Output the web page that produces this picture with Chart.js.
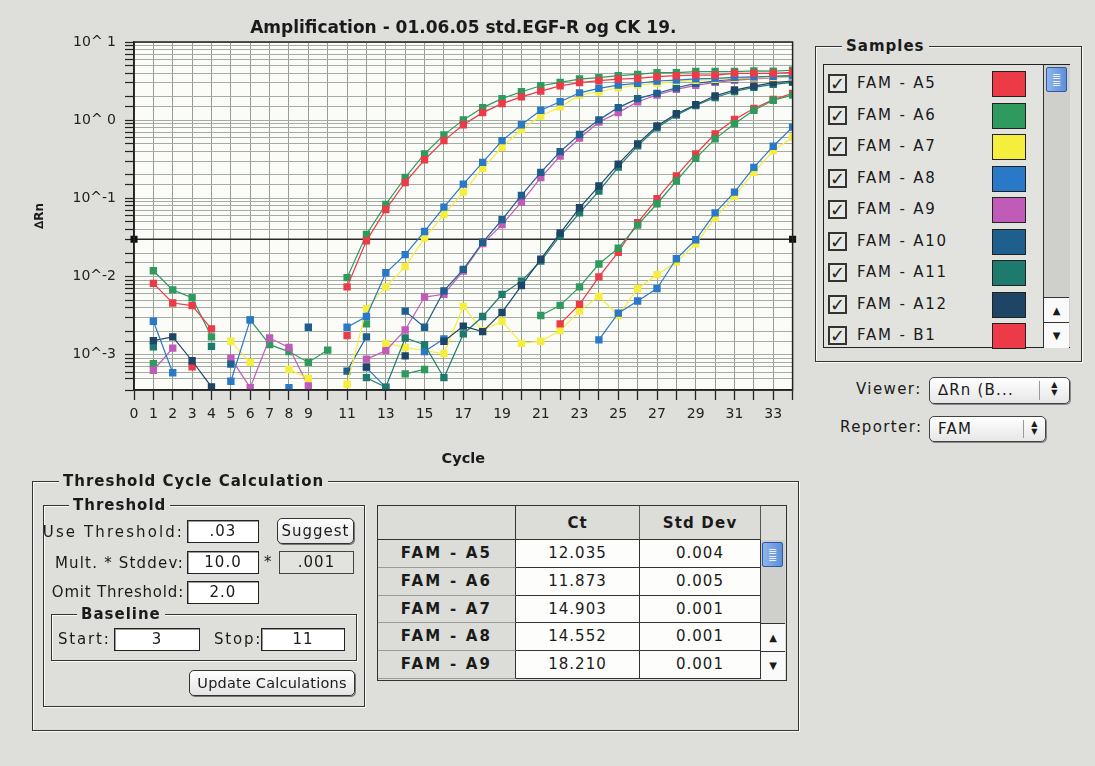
<!DOCTYPE html>
<html>
<head>
<meta charset="utf-8">
<script src="https://cdn.jsdelivr.net/npm/chart.js@4.4.0/dist/chart.umd.min.js"></script>
<style>
  body { margin: 0; width: 1095px; height: 766px; background: #dedfdb; font-family: "DejaVu Sans", sans-serif; color: #1a1a1a; position: relative; overflow: hidden; }
  #wrap { position: absolute; left: 0; top: 0; width: 810px; height: 475px; }
  .abs { position: absolute; }
  .grp { position: absolute; border: 1px solid #333; box-shadow: 1px 1px 0 #fafafa, inset 1px 1px 0 #fafafa; }
  .gt { position: absolute; top: -10px; background: #dedfdb; padding: 0 4px; font-weight: bold; font-size: 15px; line-height: 18px; letter-spacing: 1px; }
  .lbl { position: absolute; font-size: 15px; letter-spacing: 1.4px; white-space: nowrap; line-height: 18px; }
  .rl { position: absolute; right: 911px; font-size: 15px; letter-spacing: 1.9px; white-space: nowrap; line-height: 18px; text-align: right; }
  .box { position: absolute; background: #fff; border: 1px solid #222; box-shadow: inset 1px 1px 0 #999; text-align: center; font-size: 15px; letter-spacing: 1px; box-sizing: border-box; }
  .btn { position: absolute; background: linear-gradient(#ffffff, #e4e4e4); border: 1px solid #333; border-radius: 5px; box-shadow: 1px 1px 0 #777; text-align: center; font-size: 15px; letter-spacing: 1px; box-sizing: border-box; }
  .popup { position: absolute; background: linear-gradient(#ffffff, #e6e6e6); border: 1px solid #444; border-radius: 5px; box-shadow: 1px 1px 0 #888; box-sizing: border-box; font-size: 15px; letter-spacing: 1.2px; }
  .arrows { position: absolute; top: 3px; width: 10px; font-size: 8px; line-height: 8px; text-align: center; }
  .chk { position: absolute; width: 19px; height: 19px; border: 2px solid #333; box-sizing: border-box; background: #e8e8e4; font-size: 18px; line-height: 15px; font-weight: bold; text-align: center; color: #222; }
  .sw { position: absolute; width: 34px; height: 26px; border: 1px solid #222; box-sizing: border-box; }
  .cell { position: absolute; box-sizing: border-box; text-align: center; font-size: 15px; letter-spacing: 1px; }
</style>
</head>
<body>
<div id="wrap"><canvas id="amp" width="810" height="475"></canvas></div>

<!-- Samples panel -->
<div class="grp" style="left:815px;top:46px;width:265px;height:314px;">
  <span class="gt" style="left:26px;">Samples</span>
</div>
<div id="list" class="abs" style="left:823px;top:64px;width:247px;height:284px;border:1px solid #222;box-sizing:border-box;background:#e2e3df;"></div>

<div class="lbl" style="left:856px;top:380px;">Viewer:</div>
<div class="popup" style="left:929px;top:377px;width:141px;height:27px;">
  <span class="abs" style="left:8px;top:3px;">∆Rn (B...</span>
  <span class="abs" style="left:109px;top:3px;height:19px;border-left:1px solid #999;"></span>
  <div class="arrows" style="left:120px;">▲<br>▼</div>
</div>
<div class="lbl" style="left:840px;top:418px;">Reporter:</div>
<div class="popup" style="left:929px;top:416px;width:117px;height:26px;">
  <span class="abs" style="left:8px;top:3px;">FAM</span>
  <span class="abs" style="left:93px;top:3px;height:18px;border-left:1px solid #999;"></span>
  <div class="arrows" style="left:100px;">▲<br>▼</div>
</div>

<!-- Threshold Cycle Calculation panel -->
<div class="grp" style="left:32px;top:481px;width:765px;height:248px;">
  <span class="gt" style="left:26px;">Threshold Cycle Calculation</span>
</div>
<div class="grp" style="left:43px;top:505px;width:320px;height:200px;">
  <span class="gt" style="left:25px;">Threshold</span>
</div>
<div class="rl" style="top:523px;letter-spacing:2.1px;">Use Threshold:</div>
<div class="box" id="thrBox" style="left:187px;top:520px;width:72px;height:23px;line-height:21px;"></div>
<div class="btn" style="left:277px;top:518px;width:77px;height:26px;line-height:24px;">Suggest</div>
<div class="rl" style="top:554px;letter-spacing:1.2px;">Mult. * Stddev:</div>
<div class="box" style="left:187px;top:551px;width:72px;height:23px;line-height:21px;">10.0</div>
<div class="lbl" style="left:264px;top:553px;">*</div>
<div class="box" style="left:279px;top:551px;width:75px;height:23px;line-height:21px;background:#e2e3df;box-shadow:none;border-color:#444;">.001</div>
<div class="rl" style="top:583px;letter-spacing:0.8px;">Omit Threshold:</div>
<div class="box" style="left:187px;top:581px;width:72px;height:23px;line-height:21px;">2.0</div>
<div class="grp" style="left:51px;top:614px;width:304px;height:45px;">
  <span class="gt" style="left:25px;">Baseline</span>
</div>
<div class="lbl" style="left:58px;top:630px;letter-spacing:1.8px;">Start:</div>
<div class="box" style="left:114px;top:628px;width:86px;height:23px;line-height:21px;">3</div>
<div class="lbl" style="left:214px;top:630px;letter-spacing:1.8px;">Stop:</div>
<div class="box" style="left:261px;top:628px;width:84px;height:23px;line-height:21px;">11</div>
<div class="btn" style="left:189px;top:670px;width:166px;height:26px;line-height:24px;letter-spacing:0.2px;font-size:14.5px;">Update Calculations</div>

<div id="ctTable" class="abs" style="left:377px;top:505px;width:410px;height:176px;border:1.5px solid #333;box-sizing:border-box;background:#dcddd9;"></div>

<script>
// cycle numbers on the x axis
const cycles = [0, 1, 2, 3, 4, 5, 6, 7, 8, 9, 10, 11, 12, 13, 14, 15, 16, 17, 18, 19, 20, 21, 22, 23, 24, 25, 26, 27, 28, 29, 30, 31, 32, 33, 34];

const sampleNames = ['FAM - A5', 'FAM - A6', 'FAM - A7', 'FAM - A8', 'FAM - A9', 'FAM - A10',
  'FAM - A11', 'FAM - A12', 'FAM - B1', 'FAM - B2', 'FAM - B3', 'FAM - B4'];
const sampleColors = ['#ec3a46', '#2e9a5e', '#f6ee3c', '#2a78c8', '#c05cb8', '#1f5f8e',
  '#1f7a6e', '#1e4466', '#ec3a46', '#2e9a5e', '#2a78c8', '#f6ee3c'];
const drawOrder = [1, 2, 4, 3, 6, 5, 8, 7, 10, 9, 11, 12];

// delta Rn per cycle (null = no point shown)
const a5 = [null, 8.2e-3, 4.6e-3, 4.25e-3, 2.15e-3, null, null, null, null, null, null, 7.4e-3, 0.0287, 0.0721, 0.160, 0.312, 0.548, 0.875, 1.25, 1.63, 1.99, 2.35, 2.75, 3.02, 3.2, 3.36, 3.43, 3.6, 3.72, 3.78, 3.78, 3.98, 3.98, 3.98, 4.1];
const a6 = [null, 0.0119, 6.76e-3, 5.36e-3, 1.7e-3, null, null, null, null, null, null, 9.7e-3, 0.0346, 0.0837, 0.185, 0.37, 0.65, 1.01, 1.45, 1.89, 2.31, 2.76, 3.05, 3.36, 3.5, 3.72, 3.86, 4.06, 4.06, 4.19, 4.19, 4.19, 4.27, 4.23, 4.35];
const a7 = [null, null, null, null, null, 1.49e-3, 8.0e-4, null, 6.5e-4, 5.0e-4, null, 4.2e-4, 3.89e-3, 7.4e-3, 0.0134, 0.0311, 0.0622, 0.1205, 0.242, 0.451, 0.76, 1.13, 1.48, 2.09, 2.31, 2.6, 2.81, 2.96, 3.14, 3.24, 3.33, 3.43, 3.48, 3.53, 3.58];
const a8 = [null, 2.69e-3, 5.9e-4, null, null, 4.6e-4, 2.8e-3, null, 3.8e-4, null, null, 2.25e-3, 3.09e-3, 0.0112, 0.0191, 0.0378, 0.0773, 0.152, 0.289, 0.548, 0.875, 1.34, 1.72, 2.24, 2.55, 2.81, 2.96, 3.17, 3.26, 3.38, 3.43, 3.53, 3.58, 3.64, 3.69];
const a9 = [null, 6.35e-4, 1.22e-3, null, null, 9.06e-4, 3.8e-4, 1.64e-3, 1.24e-3, 4.0e-4, null, null, 8.8e-4, 1.13e-3, 2.08e-3, 5.48e-3, 5.94e-3, 0.0118, 0.0265, 0.0462, 0.0895, 0.185, 0.348, 0.589, 0.948, 1.25, 1.72, 2.1, 2.48, 2.79, 3.05, 3.24, 3.38, 3.48, 3.58];
const a10 = [null, null, null, null, null, 7.6e-4, null, null, null, 2.25e-3, null, 6.2e-4, 1.7e-3, null, 3.62e-3, 2.25e-3, 6.56e-3, 0.0124, 0.0275, 0.0536, 0.109, 0.215, 0.396, 0.656, 1.01, 1.45, 1.89, 2.2, 2.6, 2.96, 3.17, 3.36, 3.5, 3.6, 3.72];
const a11 = [null, 1.27e-3, null, null, 1.28e-3, null, null, null, null, null, null, null, 5.1e-4, 3.85e-4, 1.64e-3, 1.35e-3, 5.1e-4, 1.85e-3, 3.09e-3, 5.94e-3, 8.75e-3, 0.0158, 0.0333, 0.0654, 0.124, 0.251, 0.469, 0.8, 1.16, 1.54, 1.95, 2.33, 2.63, 2.87, 3.05];
const a12 = [null, 1.52e-3, 1.7e-3, 8.4e-4, 3.9e-4, null, null, null, null, null, null, null, 7.0e-4, null, 9.7e-4, null, 1.49e-3, 2.33e-3, 1.98e-3, 3.48e-3, 7.66e-3, 0.0167, 0.0361, 0.0759, 0.144, 0.275, 0.498, 0.842, 1.21, 1.58, 2.05, 2.43, 2.73, 3.02, 3.17];
const b1 = [null, null, null, 7.0e-4, null, null, null, null, null, null, null, 1.76e-3, null, null, null, null, null, null, null, null, null, null, 2.49e-3, 4.42e-3, 9.93e-3, 0.0205, 0.049, 0.099, 0.194, 0.37, 0.67, 1.02, 1.41, 1.84, 2.2];
const b2 = [null, 7.7e-4, null, null, null, null, 2.8e-3, 1.35e-3, 1.1e-3, 8.0e-4, 1.15e-3, null, 2.49e-3, null, 5.7e-4, 6.5e-4, null, null, null, null, null, 3.18e-3, 4.29e-3, 7.4e-3, 0.0145, 0.0231, 0.0455, 0.0855, 0.167, 0.325, 0.577, 0.902, 1.34, 1.8, 2.09];
const b3 = [null, null, null, null, null, null, null, null, null, null, null, null, 6.86e-4, 3.83e-4, null, 1.1e-3, 1.6e-3, null, null, null, null, null, null, null, 1.55e-3, 3.41e-3, 4.88e-3, 7.05e-3, 0.0169, 0.0296, 0.0654, 0.1205, 0.249, 0.465, 0.817];
const b4 = [null, null, null, null, null, null, null, null, null, null, null, null, null, 1.4e-3, 1.24e-3, 1.13e-3, 1.04e-3, 4.16e-3, 2.04e-3, 2.69e-3, 1.4e-3, 1.49e-3, 2.04e-3, 3.62e-3, 5.6e-3, 3.18e-3, 7.05e-3, 0.0106, 0.0154, 0.0262, 0.0564, 0.107, 0.215, 0.407, 0.607];
const seriesValues = [a5, a6, a7, a8, a9, a10, a11, a12, b1, b2, b3, b4];

const threshold = 0.03;
const yMin = 3.55e-4;
const yMax = 10;

// results table
const tableSamples = ['FAM - A5', 'FAM - A6', 'FAM - A7', 'FAM - A8', 'FAM - A9'];
const ctValues = ['12.035', '11.873', '14.903', '14.552', '18.210'];
const stdDevValues = ['0.004', '0.005', '0.001', '0.001', '0.001'];

const listedSamples = 9;

// ---- chart ----
const datasets = seriesValues.map((vals, i) => ({
  label: sampleNames[i],
  data: vals.map((v, k) => ({ x: cycles[k], y: v })),
  borderColor: sampleColors[i],
  backgroundColor: sampleColors[i],
  pointBackgroundColor: sampleColors[i],
  borderWidth: 1.2,
  pointStyle: 'rect',
  pointRadius: 5.2,
  pointBorderWidth: 0,
  spanGaps: false,
  order: drawOrder[i]
}));

datasets.push({
  label: 'Threshold',
  data: [{ x: cycles[0], y: threshold }, { x: cycles[cycles.length - 1], y: threshold }],
  borderColor: '#2a2a2a',
  borderWidth: 1.6,
  pointStyle: 'rect',
  pointRadius: 5,
  pointBackgroundColor: '#111',
  pointBorderWidth: 0,
  clip: 8,
  order: 30
});

const plotFrame = {
  id: 'plotFrame',
  beforeDraw(chart) {
    const { ctx, chartArea: a } = chart;
    ctx.save();
    ctx.fillStyle = '#fbfbf8';
    ctx.fillRect(a.left, a.top, a.right - a.left, a.bottom - a.top);
    ctx.restore();
  },
  afterDatasetsDraw(chart) {
    const { ctx, chartArea: a } = chart;
    ctx.save();
    ctx.strokeStyle = '#222';
    ctx.lineWidth = 1.5;
    ctx.strokeRect(a.left, a.top, a.right - a.left, a.bottom - a.top);
    ctx.restore();
  }
};

function powLabel(v) {
  const e = Math.log10(v);
  const r = Math.round(e);
  if (Math.abs(e - r) > 1e-6) return '';
  return '10^' + (r >= 0 ? ' ' + r : String(r));
}

new Chart(document.getElementById('amp'), {
  type: 'line',
  data: { datasets },
  plugins: [plotFrame],
  options: {
    responsive: false,
    animation: false,
    layout: { padding: { left: 0, right: 17.4, top: 0, bottom: 0 } },
    plugins: {
      legend: { display: false },
      tooltip: { enabled: false },
      title: {
        display: true,
        fullSize: false,
        text: 'Amplification - 01.06.05 std.EGF-R og CK 19.',
        color: '#1a1a1a',
        font: { family: 'DejaVu Sans', size: 17, weight: 'bold', lineHeight: 1.2 },
        padding: { top: 18, bottom: 3.6 }
      }
    },
    scales: {
      x: {
        type: 'linear',
        min: 0,
        max: 34,
        afterFit(scale) { scale.height = 85; },
        ticks: {
          stepSize: 1,
          autoSkip: false,
          maxRotation: 0,
          padding: 6,
          color: '#222',
          font: { family: 'DejaVu Sans', size: 14 },
          callback: (v) => (v <= 9 || v % 2 === 1) && v < 34 ? String(v) : ''
        },
        grid: { color: '#959e95', lineWidth: 1, tickLength: 10, tickColor: '#222', tickWidth: 1.3 },
        border: { color: '#222', width: 1.5 },
        title: {
          display: true,
          text: 'Cycle',
          color: '#1a1a1a',
          font: { family: 'DejaVu Sans', size: 14.5, weight: 'bold', lineHeight: 1.2 },
          padding: { top: 0, bottom: 7.3 }
        }
      },
      y: {
        type: 'logarithmic',
        min: yMin,
        max: yMax,
        afterFit(scale) { scale.width = 134; },
        ticks: {
          autoSkip: false,
          padding: 9,
          color: '#222',
          font: { family: 'DejaVu Sans', size: 14 },
          callback: (v) => powLabel(v)
        },
        grid: { color: '#a4aca4', lineWidth: 1, tickLength: 9, tickColor: '#222', tickWidth: 1.2 },
        border: { color: '#222', width: 1.5 },
        title: {
          display: true,
          text: '∆Rn',
          color: '#1a1a1a',
          font: { family: 'DejaVu Sans', size: 12, weight: 'bold', lineHeight: 1.2 },
          padding: { top: 33, bottom: 0 }
        }
      }
    }
  }
});

// ---- samples list ----
const list = document.getElementById('list');
for (let i = 0; i < listedSamples; i++) {
  const cy = 19 + i * 31.5;
  const chk = document.createElement('div');
  chk.className = 'chk';
  chk.style.left = '4px';
  chk.style.top = (cy - 10) + 'px';
  chk.textContent = '✓';
  list.appendChild(chk);
  const t = document.createElement('div');
  t.className = 'lbl';
  t.style.left = '33px';
  t.style.top = (cy - 10) + 'px';
  t.style.letterSpacing = '1.8px';
  t.textContent = sampleNames[i];
  list.appendChild(t);
  const sw = document.createElement('div');
  sw.className = 'sw';
  sw.style.left = '168px';
  sw.style.top = (cy - 13) + 'px';
  sw.style.background = sampleColors[i];
  list.appendChild(sw);
}
// list scrollbar
list.insertAdjacentHTML('beforeend',
  '<div class="abs" style="left:219px;top:0;width:26px;height:282px;border-left:1px solid #333;background:#cfd0cc;"></div>' +
  '<div class="abs" style="left:222px;top:2px;width:21px;height:25px;border:1px solid #2c5aa0;border-radius:2px;background:linear-gradient(90deg,#8fb4ea,#5d8fd8);box-sizing:border-box;color:#e8f0ff;font-size:11px;line-height:7px;text-align:center;padding-top:5px;">≡<br>≡</div>' +
  '<div class="abs" style="left:220px;top:232px;width:25px;height:25px;border-top:1px solid #333;background:#fafafa;font-size:10px;text-align:center;line-height:25px;">▲</div>' +
  '<div class="abs" style="left:220px;top:257px;width:25px;height:25px;border-top:1px solid #333;background:#fafafa;font-size:10px;text-align:center;line-height:25px;">▼</div>');

document.getElementById('thrBox').textContent = '.' + String(threshold).split('.')[1];

// ---- Ct table ----
const tbl = document.getElementById('ctTable');
const colX = [0, 138, 262, 383];
const colW = [138, 124, 121, 25];
const headH = 34;
const rowH = 27.8;
tbl.insertAdjacentHTML('beforeend',
  `<div class="cell" style="left:0;top:0;width:${colW[0]}px;height:${headH}px;border-right:1px solid #333;border-bottom:1.5px solid #333;"></div>` +
  `<div class="cell" style="left:${colX[1]}px;top:0;width:${colW[1]}px;height:${headH}px;border-right:1px solid #555;border-bottom:1.5px solid #333;font-weight:bold;line-height:${headH}px;">Ct</div>` +
  `<div class="cell" style="left:${colX[2]}px;top:0;width:${colW[2]}px;height:${headH}px;border-right:1px solid #555;border-bottom:1.5px solid #333;font-weight:bold;line-height:${headH}px;letter-spacing:1.2px;">Std Dev</div>`);
tableSamples.forEach((name, i) => {
  const top = headH + i * rowH;
  tbl.insertAdjacentHTML('beforeend',
    `<div class="cell" style="left:0;top:${top}px;width:${colW[0]}px;height:${rowH}px;border-right:1px solid #333;border-bottom:1px solid #9a9a96;font-weight:bold;line-height:${rowH}px;letter-spacing:2.2px;">${name}</div>` +
    `<div class="cell" style="left:${colX[1]}px;top:${top}px;width:${colW[1]}px;height:${rowH}px;background:#fdfdfb;border-right:1px solid #333;border-bottom:1px solid #333;line-height:${rowH}px;">${ctValues[i]}</div>` +
    `<div class="cell" style="left:${colX[2]}px;top:${top}px;width:${colW[2]}px;height:${rowH}px;background:#fdfdfb;border-right:1px solid #333;border-bottom:1px solid #333;line-height:${rowH}px;">${stdDevValues[i]}</div>`);
});
tbl.insertAdjacentHTML('beforeend',
  `<div class="abs" style="left:${colX[3]}px;top:${headH}px;width:24px;height:${5 * rowH}px;background:#cfd0cc;"></div>` +
  `<div class="abs" style="left:${colX[3] + 1}px;top:${headH + 2}px;width:21px;height:25px;border:1px solid #2c5aa0;border-radius:2px;background:linear-gradient(90deg,#8fb4ea,#5d8fd8);box-sizing:border-box;color:#e8f0ff;font-size:11px;line-height:7px;text-align:center;padding-top:5px;">≡<br>≡</div>` +
  `<div class="abs" style="left:${colX[3]}px;top:${headH + 3 * rowH}px;width:24px;height:${rowH}px;border-top:1px solid #333;background:#fafafa;font-size:10px;text-align:center;line-height:${rowH}px;">▲</div>` +
  `<div class="abs" style="left:${colX[3]}px;top:${headH + 4 * rowH}px;width:24px;height:${rowH}px;border-top:1px solid #333;background:#fafafa;font-size:10px;text-align:center;line-height:${rowH}px;">▼</div>`);
</script>
</body>
</html>
